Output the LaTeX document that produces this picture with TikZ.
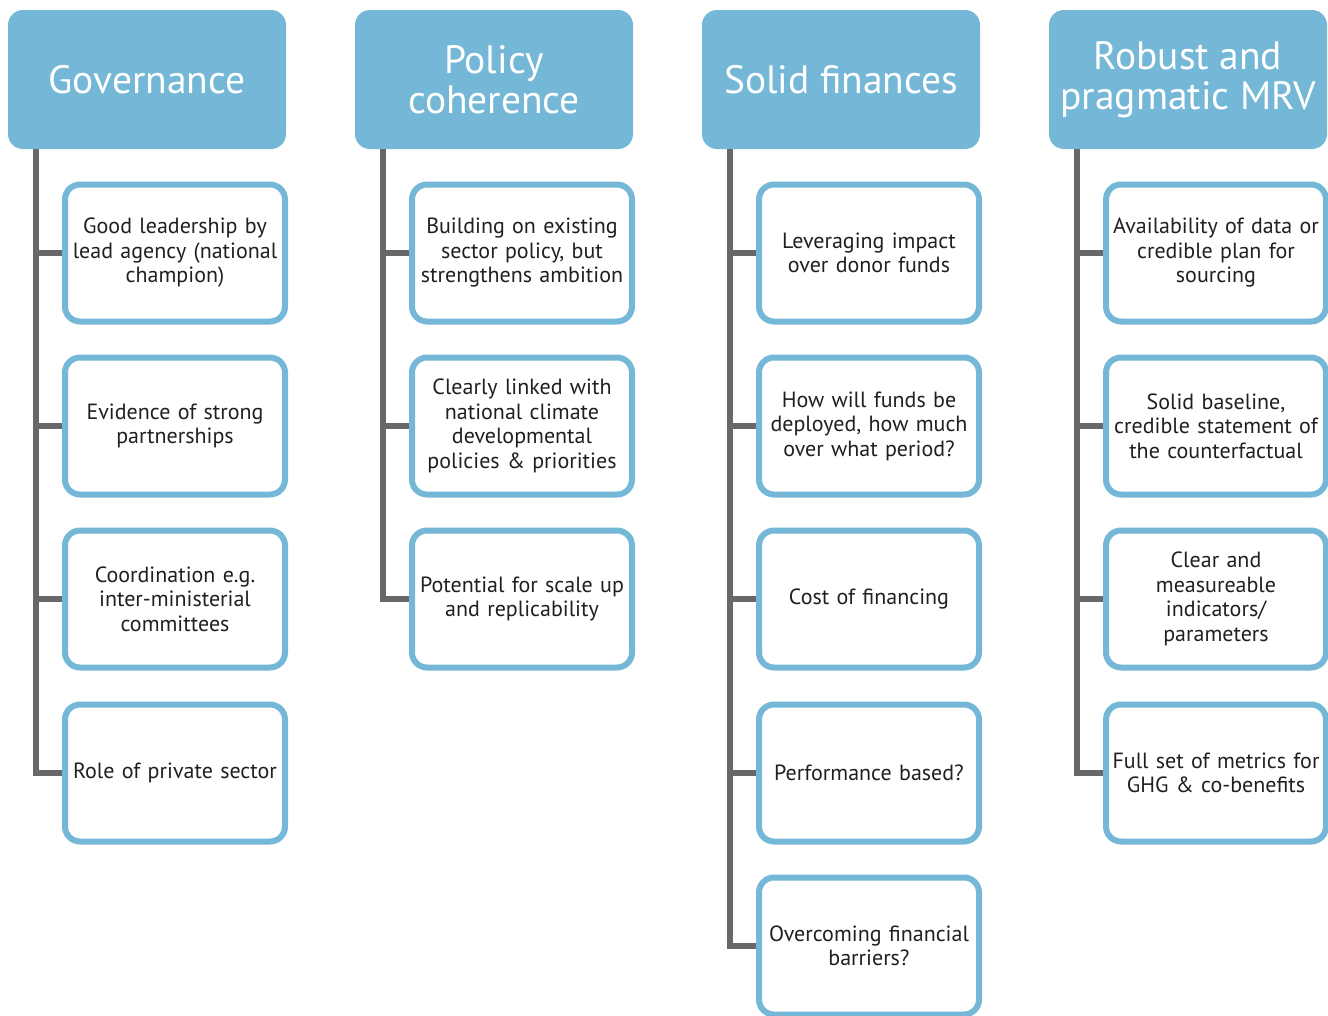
\documentclass[tikz,border=0pt]{standalone}
\usepackage{fontspec}
\setmainfont{PT Sans}
\definecolor{headblue}{HTML}{74B7D6}
\definecolor{trunkgray}{HTML}{67686A}
\definecolor{textdark}{HTML}{231F20}
\begin{document}
\begin{tikzpicture}[x=1pt,y=-1pt]
        \tikzstyle{head}=[fill=headblue,rounded corners=15pt,minimum width=278pt,minimum height=139pt,
            text=white,align=center,font=\fontsize{39.5}{40}\selectfont,inner sep=0pt];
        \tikzstyle{item}=[draw=headblue,line width=6pt,fill=white,rounded corners=15pt,minimum width=220pt,
            minimum height=137pt,text width=214pt,align=center,text=textdark,inner sep=0pt,
            font=\fontsize{22}{24.5}\selectfont];
        \tikzstyle{trunk}=[draw=trunkgray,line width=6pt];
        \useasboundingbox (0,0) rectangle (1328,1015);
        %\node (name) at (x,y) [head] {text};
        \node (h1) at (147,79.5) [head] {Governance};
        \node (h2) at (494,79.5) [head] {Policy\\coherence};
        \node (h3) at (841,79.5) [head] {Solid finances};
        \node (h4) at (1188,79.5) [head] {Robust and\\pragmatic MRV};
        \coordinate (t1) at ([xshift=28pt]h1.south west);
        \coordinate (t2) at ([xshift=28pt]h2.south west);
        \coordinate (t3) at ([xshift=28pt]h3.south west);
        \coordinate (t4) at ([xshift=28pt]h4.south west);
        %first column
        \node (c11) at (175,253) [item] {Good leadership by\\lead agency (national\\champion)};
        \node (c12) at (175,426) [item] {Evidence of strong\\partnerships};
        \node (c13) at (175,599) [item] {Coordination e.g.\\inter-ministerial\\committees};
        \node (c14) at (175,773) [item] {Role of private sector};
        %second column
        \node (c21) at (522,253) [item] {Building on existing\\sector policy, but\\strengthens ambition};
        \node (c22) at (522,426) [item] {Clearly linked with\\national climate\\developmental\\policies \& priorities};
        \node (c23) at (522,599) [item] {Potential for scale up\\and replicability};
        %third column
        \node (c31) at (869,253) [item] {Leveraging impact\\over donor funds};
        \node (c32) at (869,426) [item] {How will funds be\\deployed, how much\\over what period?};
        \node (c33) at (869,599) [item] {Cost of financing};
        \node (c34) at (869,773) [item] {Performance based?};
        \node (c35) at (869,946) [item] {Overcoming financial\\barriers?};
        %fourth column
        \node (c41) at (1216,253) [item] {Availability of data or\\credible plan for\\sourcing};
        \node (c42) at (1216,426) [item] {Solid baseline,\\credible statement of\\the counterfactual};
        \node (c43) at (1216,599) [item] {Clear and\\measureable\\indicators/\\parameters};
        \node (c44) at (1216,773) [item] {Full set of metrics for\\GHG \& co-benefits};
        \draw[trunk] (t1) |- (c14.west);
        \draw[trunk] (c11.west) -- (c11.west -| t1);
        \draw[trunk] (c12.west) -- (c12.west -| t1);
        \draw[trunk] (c13.west) -- (c13.west -| t1);
        \draw[trunk] (t2) |- (c23.west);
        \draw[trunk] (c21.west) -- (c21.west -| t2);
        \draw[trunk] (c22.west) -- (c22.west -| t2);
        \draw[trunk] (t3) |- (c35.west);
        \draw[trunk] (c31.west) -- (c31.west -| t3);
        \draw[trunk] (c32.west) -- (c32.west -| t3);
        \draw[trunk] (c33.west) -- (c33.west -| t3);
        \draw[trunk] (c34.west) -- (c34.west -| t3);
        \draw[trunk] (t4) |- (c44.west);
        \draw[trunk] (c41.west) -- (c41.west -| t4);
        \draw[trunk] (c42.west) -- (c42.west -| t4);
        \draw[trunk] (c43.west) -- (c43.west -| t4);
    \end{tikzpicture}
\end{document}
